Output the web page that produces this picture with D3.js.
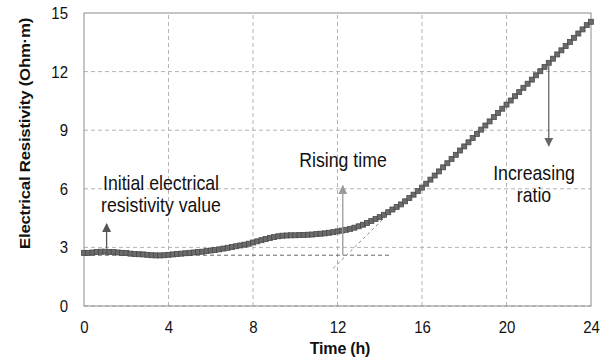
<!DOCTYPE html>
<html><head><meta charset="utf-8">
<script src="https://cdn.jsdelivr.net/npm/d3@7"></script>
<style>body{margin:0;background:#fff}svg{display:block}text{font-family:"Liberation Sans",Arial,sans-serif}</style>
</head><body>
<svg id="c" width="613" height="362"></svg>
<script>
const xTicks = [0, 4, 8, 12, 16, 20, 24];
const yTicks = [0, 3, 6, 9, 12, 15];
const timeStep = 0.2; // hours between readings
const resistivity = [
 2.72,2.72,2.74,2.77,2.78,2.78,2.77,2.76,2.74,2.72,2.71,
 2.68,2.66,2.65,2.64,2.62,2.60,2.59,2.59,2.60,2.62,
 2.64,2.66,2.68,2.70,2.72,2.74,2.76,2.78,2.81,2.84,
 2.87,2.90,2.94,2.98,3.02,3.06,3.10,3.14,3.19,3.25,
 3.31,3.37,3.43,3.48,3.53,3.57,3.60,3.61,3.62,3.62,
 3.63,3.64,3.65,3.66,3.68,3.70,3.72,3.75,3.78,3.82,
 3.86,3.90,3.95,4.01,4.08,4.16,4.25,4.35,4.45,4.55,
 4.67,4.80,4.94,5.07,5.20,5.36,5.53,5.70,5.88,6.06,
 6.26,6.47,6.68,6.89,7.10,7.31,7.53,7.74,7.96,8.17,
 8.38,8.60,8.81,9.03,9.24,9.45,9.67,9.88,10.10,10.31,
 10.52,10.74,10.95,11.17,11.38,11.59,11.81,12.02,12.24,12.45,
 12.66,12.88,13.09,13.31,13.52,13.73,13.95,14.16,14.38,14.55
];
const times = resistivity.map((_, i) => +(i * timeStep).toFixed(1));
// annotations (data coordinates)
const initialLevel = 2.6;
const initialArrow = {t: 1.07, from: 2.95, to: 4.2};
const risingArrow = {t: 12.25, from: 2.6, to: 6.15};
const tangent = {t0: 11.8, v0: 1.93, t1: 14.5, v1: 4.82};
const ratioArrow = {t: 22.0, from: 12.3, to: 8.2};

const svg = d3.select("#c");
const m = {l: 84, r: 22, t: 13, b: 56};
const W = 613, H = 362;
const SY = 1.12; // vertical stretch of text in the reference
const x = d3.scaleLinear().domain([0, 24]).range([m.l, W - m.r]);
const y = d3.scaleLinear().domain([0, 15]).range([H - m.b, m.t]);

// grid
const g = svg.append("g");
g.selectAll(".gx").data(xTicks.slice(1, -1)).join("line")
  .attr("x1", d => x(d)).attr("x2", d => x(d)).attr("y1", y(0)).attr("y2", y(15))
  .attr("stroke", "#b3b3b3").attr("stroke-dasharray", "4,3").attr("stroke-width", 1);
g.selectAll(".gy").data(yTicks.slice(0, -1)).join("line")
  .attr("y1", d => y(d)).attr("y2", d => y(d)).attr("x1", x(0)).attr("x2", x(24))
  .attr("stroke", "#b3b3b3").attr("stroke-dasharray", "4,3").attr("stroke-width", 1);
// border
svg.append("rect").attr("x", x(0)).attr("y", y(15)).attr("width", x(24) - x(0)).attr("height", y(0) - y(15))
  .attr("fill", "none").attr("stroke", "#8c8c8c").attr("stroke-width", 1);

// axes
const xa = svg.append("g").attr("transform", `translate(0,${y(0)})`)
  .call(d3.axisBottom(x).tickValues(xTicks).tickSize(0).tickPadding(0));
const ya = svg.append("g").attr("transform", `translate(${x(0)},0)`)
  .call(d3.axisLeft(y).tickValues(yTicks).tickSize(0).tickPadding(0));
[xa, ya].forEach(a => {
  a.select(".domain").remove();
  a.selectAll("text").attr("font-size", 15).attr("fill", "#111").attr("font-family", "Liberation Sans, Arial, sans-serif");
});
xa.selectAll(".tick text").attr("dy", null).attr("y", 0)
  .attr("transform", `translate(0,27) scale(1,${SY})`);
ya.selectAll(".tick text").attr("dy", null).attr("x", 0)
  .attr("transform", `translate(-16,5.5) scale(1,${SY})`);

// annotation lines
svg.append("line").attr("x1", x(0)).attr("x2", x(14.5)).attr("y1", y(initialLevel)).attr("y2", y(initialLevel))
  .attr("stroke", "#666").attr("stroke-dasharray", "4,3");
svg.append("line").attr("x1", x(tangent.t0)).attr("y1", y(tangent.v0)).attr("x2", x(tangent.t1)).attr("y2", y(tangent.v1))
  .attr("stroke", "#888").attr("stroke-dasharray", "3,3");

// markers
svg.append("g").selectAll("rect").data(resistivity).join("rect")
  .attr("x", (d, i) => x(times[i]) - 2.5).attr("y", d => y(d) - 2.5)
  .attr("width", 5).attr("height", 5)
  .attr("fill", "#6b6b6b").attr("stroke", "#4a4a4a").attr("stroke-width", 0.8);

// arrows
const defs = svg.append("defs");
function marker(id, color) {
  defs.append("marker").attr("id", id).attr("viewBox", "0 0 10 10").attr("refX", 9).attr("refY", 5)
    .attr("markerWidth", 9).attr("markerHeight", 9).attr("markerUnits", "userSpaceOnUse").attr("orient", "auto")
    .append("path").attr("d", "M0,0L10,5L0,10z").attr("fill", color);
}
marker("a1", "#555"); marker("a2", "#999"); marker("a3", "#666");
function arrow(a, color, id) {
  svg.append("line").attr("x1", x(a.t)).attr("x2", x(a.t)).attr("y1", y(a.from)).attr("y2", y(a.to))
    .attr("stroke", color).attr("stroke-width", 1.3).attr("marker-end", `url(#${id})`);
}
arrow(initialArrow, "#555", "a1");
arrow(risingArrow, "#999", "a2");
arrow(ratioArrow, "#666", "a3");

// annotation text
function label(lines, cx, cy, gap) {
  lines.forEach((s, i) => svg.append("text").attr("text-anchor", "middle").attr("font-size", 17.7).attr("fill", "#111")
    .attr("transform", `translate(${cx},${cy + i * gap}) scale(1,${SY})`).text(s));
}
label(["Initial electrical", "resistivity value"], 161, 190, 22);
label(["Rising time"], 343, 166.5, 0);
label(["Increasing", "ratio"], 534, 179.5, 22.3);

// axis titles
svg.append("text").attr("x", 340).attr("y", 354).attr("text-anchor", "middle")
  .attr("font-size", 16).attr("font-weight", "bold").attr("fill", "#111").attr("letter-spacing", -0.2).text("Time (h)");
svg.append("text").attr("transform", `translate(30,133.5) rotate(-90) scale(${SY},1)`).attr("text-anchor", "middle")
  .attr("font-size", 15).attr("font-weight", "bold").attr("fill", "#111").attr("letter-spacing", -0.2)
  .text("Electrical Resistivity (Ohm·m)");
</script>
</body></html>
